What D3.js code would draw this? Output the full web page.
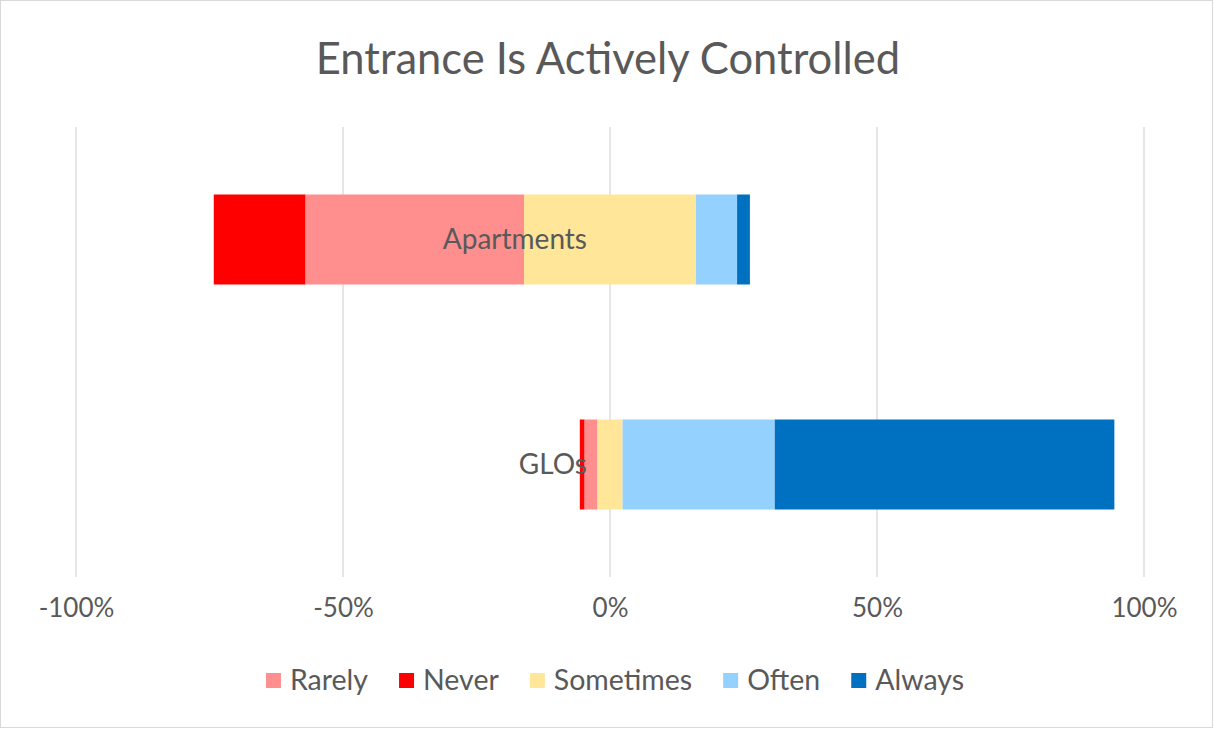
<!DOCTYPE html>
<html>
<head>
<meta charset="utf-8">
<script src="https://cdn.jsdelivr.net/npm/d3@7"></script>
<style>
  body { margin: 0; background: #fff; }
  svg { display: block; font-family: Lato, "Open Sans", sans-serif; }
</style>
</head>
<body>
<div id="vis-holder"></div>
<script>
// categories and series (percent of responses)
let CATEGORIES = ["Apartments", "GLOs"]
let LEGEND_ORDER = ["Rarely", "Never", "Sometimes", "Often", "Always"]
let NEVER     = [17.2, 0.9]
let RARELY    = [40.9, 2.4]
let SOMETIMES = [32.2, 4.7]
let OFTEN     = [7.7, 28.5]
let ALWAYS    = [2.4, 63.6]
let TICKS = [-100, -50, 0, 50, 100]

let COLORS = {Rarely: "#ff8f8f", Never: "#ff0000", Sometimes: "#ffe699", Often: "#94d1fe", Always: "#0070c0"}

var W = 1214, H = 729;

var svg = d3.select("#vis-holder")
  .append("svg")
    .attr("width", W)
    .attr("height", H);

// chart border
svg.append("rect")
  .attr("x", 0.5).attr("y", 0.5)
  .attr("width", W - 2).attr("height", H - 2)
  .attr("fill", "#fff")
  .attr("stroke", "#d9d9d9");

// title
svg.append("text")
  .attr("x", 608).attr("y", 74)
  .attr("text-anchor", "middle")
  .attr("font-size", 43.5)
  .attr("fill", "#595959")
  .text("Entrance Is Actively Controlled");

var x = d3.scaleLinear()
  .domain([-100, 100])
  .range([76, 1144]);

var y = d3.scaleBand()
  .domain(CATEGORIES)
  .range([127, 577])
  .padding(0);

// gridlines
svg.append("g")
  .selectAll("line")
  .data(TICKS)
  .enter()
  .append("line")
    .attr("x1", d => x(d)).attr("x2", d => x(d))
    .attr("y1", 127).attr("y2", 577)
    .attr("stroke", "#d9d9d9")
    .attr("stroke-width", 1.3);

// x axis tick labels
var xAxis = svg.append("g")
  .attr("transform", "translate(0,577)")
  .call(d3.axisBottom(x).tickValues(TICKS).tickSize(0).tickPadding(22).tickFormat(d => d + "%"));
xAxis.select(".domain").remove();
xAxis.selectAll("text")
  .attr("font-size", 26)
  .attr("font-family", "Lato, sans-serif")
  .attr("fill", "#595959");

// build stacked segments, diverging around "Sometimes" midpoint
var segs = [];
CATEGORIES.forEach((cat, i) => {
  var parts = [["Never", NEVER[i]], ["Rarely", RARELY[i]], ["Sometimes", SOMETIMES[i]], ["Often", OFTEN[i]], ["Always", ALWAYS[i]]];
  var start = -(NEVER[i] + RARELY[i] + SOMETIMES[i] / 2);
  parts.forEach(p => {
    segs.push({cat: cat, series: p[0], x0: start, x1: start + p[1]});
    start += p[1];
  });
});

var barH = y.bandwidth() * 0.4;

svg.append("g")
  .selectAll("rect")
  .data(segs)
  .enter()
  .append("rect")
    .attr("x", d => x(d.x0))
    .attr("y", d => y(d.cat) + (y.bandwidth() - barH) / 2)
    .attr("width", d => x(d.x1) - x(d.x0))
    .attr("height", barH)
    .attr("fill", d => COLORS[d.series]);

// category labels sit next to the zero line
svg.append("g")
  .selectAll("text")
  .data(CATEGORIES)
  .enter()
  .append("text")
    .attr("x", x(0) - 23)
    .attr("y", d => y(d) + y.bandwidth() / 2)
    .attr("dy", "0.35em")
    .attr("text-anchor", "end")
    .attr("font-size", 28)
    .attr("fill", "#595959")
    .text(d => d);

// legend
var legend = svg.append("g");
var lx = 0;
LEGEND_ORDER.forEach(name => {
  var g = legend.append("g").attr("transform", "translate(" + lx + ",0)");
  g.append("rect")
    .attr("x", 0).attr("y", -7)
    .attr("width", 15).attr("height", 15)
    .attr("fill", COLORS[name]);
  var t = g.append("text")
    .attr("x", 24).attr("dy", "0.35em")
    .attr("font-size", 28.5)
    .attr("fill", "#595959")
    .text(name);
  lx += 24 + t.node().getComputedTextLength() + 31;
});
lx -= 31;
legend.attr("transform", "translate(" + (615 - lx / 2) + ",680)");
</script>
</body>
</html>
